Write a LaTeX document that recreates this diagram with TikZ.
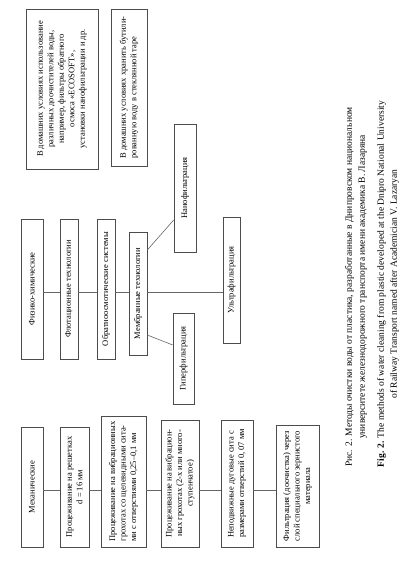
\documentclass[tikz,border=0pt]{standalone}
\usepackage{fontspec}
\setmainfont{Liberation Serif}
\begin{document}
\begin{tikzpicture}[x=1pt,y=-1pt,
  box/.style={draw=black!70, line width=0.6pt, rotate=90, inner sep=1.5pt, font=\fontsize{8.5}{10.5}\selectfont, align=center},
  link/.style={draw=black!60, line width=0.6pt},
  captext/.style={rotate=90, inner sep=0pt, font=\fontsize{9.5}{13}\selectfont, align=center}]
\useasboundingbox (0,0) rectangle (418,565);
% top boxes
\node[box, minimum width=160pt, minimum height=72pt] (dom1) at (62,89) {В домашних условиях использование\\различных доочистителей воды,\\например, фильтры обратного\\осмоса «ECOSOFT»,\\установки нанофильтрации и др.};
\node[box, minimum width=157pt, minimum height=36pt, align=left] (dom2) at (129,87.5) {В домашних условиях хранить бутили-\\рованную воду в стеклянной таре};
% middle column
\node[box, minimum width=140pt, minimum height=22pt] (fiz) at (32,289) {Физико-химические};
\node[box, minimum width=140pt, minimum height=18pt] (flot) at (69,289) {Флотационные технологии};
\node[box, minimum width=140pt, minimum height=18pt] (obr) at (106,289) {Обратноосмотические системы};
\node[box, minimum width=123pt, minimum height=18pt] (mem) at (138,293.5) {Мембранные технологии};
\node[box, minimum width=128pt, minimum height=22pt] (nano) at (185,188) {Нанофильтрация};
\node[box, minimum width=126pt, minimum height=17pt] (ultra) at (231.5,280) {Ультрафильтрация};
\node[box, minimum width=91pt, minimum height=21pt] (giper) at (183.5,358.5) {Гиперфильтрация};
% left column
\node[box, minimum width=120pt, minimum height=22pt] (mech) at (32,487) {Механические};
\node[box, minimum width=120pt, minimum height=29pt] (resh) at (74.5,487) {Процеживание на решетках\\d = 16 мм};
\node[box, minimum width=131pt, minimum height=45pt, align=left] (vib1) at (123.5,481.5) {Процеживание на вибрационных\\грохотах со щелевидными сита-\\ми с отверстиями 0,25–0,1 мм};
\node[box, minimum width=127pt, minimum height=38pt] (vib2) at (180,483.5) {Процеживание на вибрацион-\\ных грохотах (2-х или много-\\ступенчатое)};
\node[box, minimum width=127pt, minimum height=32pt, align=left] (nep) at (237,483.5) {Неподвижные дуговые сита с\\размерами отверстий 0, 07 мм};
\node[box, minimum width=122pt, minimum height=43pt] (filt) at (297.5,486) {Фильтрация (доочистка) через\\слой специального зернистого\\материала};
% connectors middle
\foreach \a/\b in {fiz/flot, flot/obr, obr/mem, mem/ultra}
  \draw[link] (\a.south |- 0,292) -- (\b.north |- 0,292);
\draw[link] (mem.south |- 0,250) -- (nano.north |- 0,220);
\draw[link] (mem.south |- 0,335) -- (giper.north |- 0,345);
% connectors left
\foreach \a/\b in {mech/resh, resh/vib1, vib1/vib2, vib2/nep, nep/filt}
  \draw[link] (\a.south |- 0,490) -- (\b.north |- 0,490);
% caption
\node[captext] (rcap) at (356,287) {Рис. 2. Методы очистки воды от пластика, разработанные в Днипровском национальном\\университете железнодорожного транспорта имени академика В. Лазаряна};
\node[captext] (ecap) at (388,284) {\textbf{Fig. 2.} The methods of water cleaning from plastic developed at the Dnipro National University\\of Railway Transport named after Academician V. Lazaryan};
\end{tikzpicture}
\end{document}
